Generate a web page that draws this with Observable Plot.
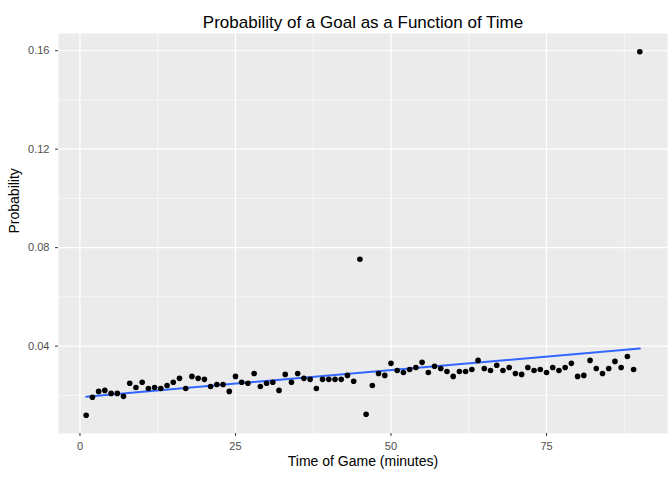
<!DOCTYPE html>
<html><head><meta charset="utf-8">
<script src="https://cdn.jsdelivr.net/npm/d3@7"></script>
<script src="https://cdn.jsdelivr.net/npm/@observablehq/plot@0.6"></script>
<style>body{margin:0;background:#fff;font-family:"Liberation Sans",Arial,sans-serif}</style>
</head><body><div id="chart"></div>
<script>
const minutes = d3.range(1, 91);
const probs = [
  0.0119, 0.0192, 0.0216, 0.0220, 0.0208, 0.0208, 0.0196, 0.0249, 0.0232, 0.0253,
  0.0228, 0.0232, 0.0228, 0.0240, 0.0253, 0.0269, 0.0228, 0.0277, 0.0269, 0.0265,
  0.0236, 0.0244, 0.0244, 0.0216, 0.0277, 0.0253, 0.0249, 0.0289, 0.0236, 0.0249,
  0.0253, 0.0220, 0.0285, 0.0253, 0.0289, 0.0269, 0.0265, 0.0228, 0.0265, 0.0265,
  0.0265, 0.0265, 0.0281, 0.0257, 0.0753, 0.0123, 0.0240, 0.0289, 0.0281, 0.0330,
  0.0301, 0.0293, 0.0305, 0.0313, 0.0334, 0.0293, 0.0318, 0.0309, 0.0297, 0.0277,
  0.0297, 0.0297, 0.0305, 0.0342, 0.0309, 0.0301, 0.0322, 0.0301, 0.0313, 0.0289,
  0.0285, 0.0313, 0.0301, 0.0305, 0.0293, 0.0313, 0.0301, 0.0313, 0.0330, 0.0277,
  0.0281, 0.0342, 0.0309, 0.0289, 0.0309, 0.0338, 0.0313, 0.0358, 0.0305, 0.1596
];
const xTicks = [0, 25, 50, 75];
const xMinor = [12.5, 37.5, 62.5, 87.5];
const yTicks = [0.04, 0.08, 0.12, 0.16];
const yMinor = [0.02, 0.06, 0.10, 0.14];

const data = minutes.map((m, i) => ({minute: m, prob: probs[i]}));

const chart = Plot.plot({
  width: 672, height: 480,
  marginLeft: 58, marginRight: 5, marginTop: 33, marginBottom: 47,
  style: {fontFamily: "Liberation Sans, Arial, sans-serif", fontSize: "11px", color: "#4D4D4D", overflow: "visible"},
  x: {domain: [-3.45, 94.45], ticks: xTicks, label: null, tickSize: 3, tickPadding: 4},
  y: {domain: [0.0045, 0.167], ticks: yTicks, label: null, tickSize: 3, tickPadding: 4, tickFormat: d3.format(".2f")},
  marks: [
    Plot.frame({fill: "#EBEBEB", stroke: null}),
    Plot.ruleX(xMinor, {stroke: "#fff", strokeWidth: 0.6}),
    Plot.ruleY(yMinor, {stroke: "#fff", strokeWidth: 0.6}),
    Plot.ruleX(xTicks, {stroke: "#fff", strokeWidth: 1.2}),
    Plot.ruleY(yTicks, {stroke: "#fff", strokeWidth: 1.2}),
    Plot.axisX({ticks: xTicks, tickSize: 3, stroke: "#333", fill: "#4D4D4D", label: null}),
    Plot.axisY({ticks: yTicks, tickSize: 3, stroke: "#333", fill: "#4D4D4D", label: null, tickFormat: d3.format(".2f")}),
    Plot.linearRegressionY(data, {x: "minute", y: "prob", stroke: "#3366FF", strokeWidth: 2, ci: 0}),
    Plot.dot(data, {x: "minute", y: "prob", r: 2.8, fill: "black"}),
    Plot.text(["Probability of a Goal as a Function of Time"], {frameAnchor: "top", dy: -18, fontSize: 17, fill: "black"}),
    Plot.text(["Time of Game (minutes)"], {frameAnchor: "bottom", dy: 32, fontSize: 14, fill: "black"}),
    Plot.text(["Probability"], {frameAnchor: "left", dx: -44, rotate: -90, fontSize: 14, fill: "black"})
  ]
});
d3.select("#chart").append(() => chart);
</script></body></html>
